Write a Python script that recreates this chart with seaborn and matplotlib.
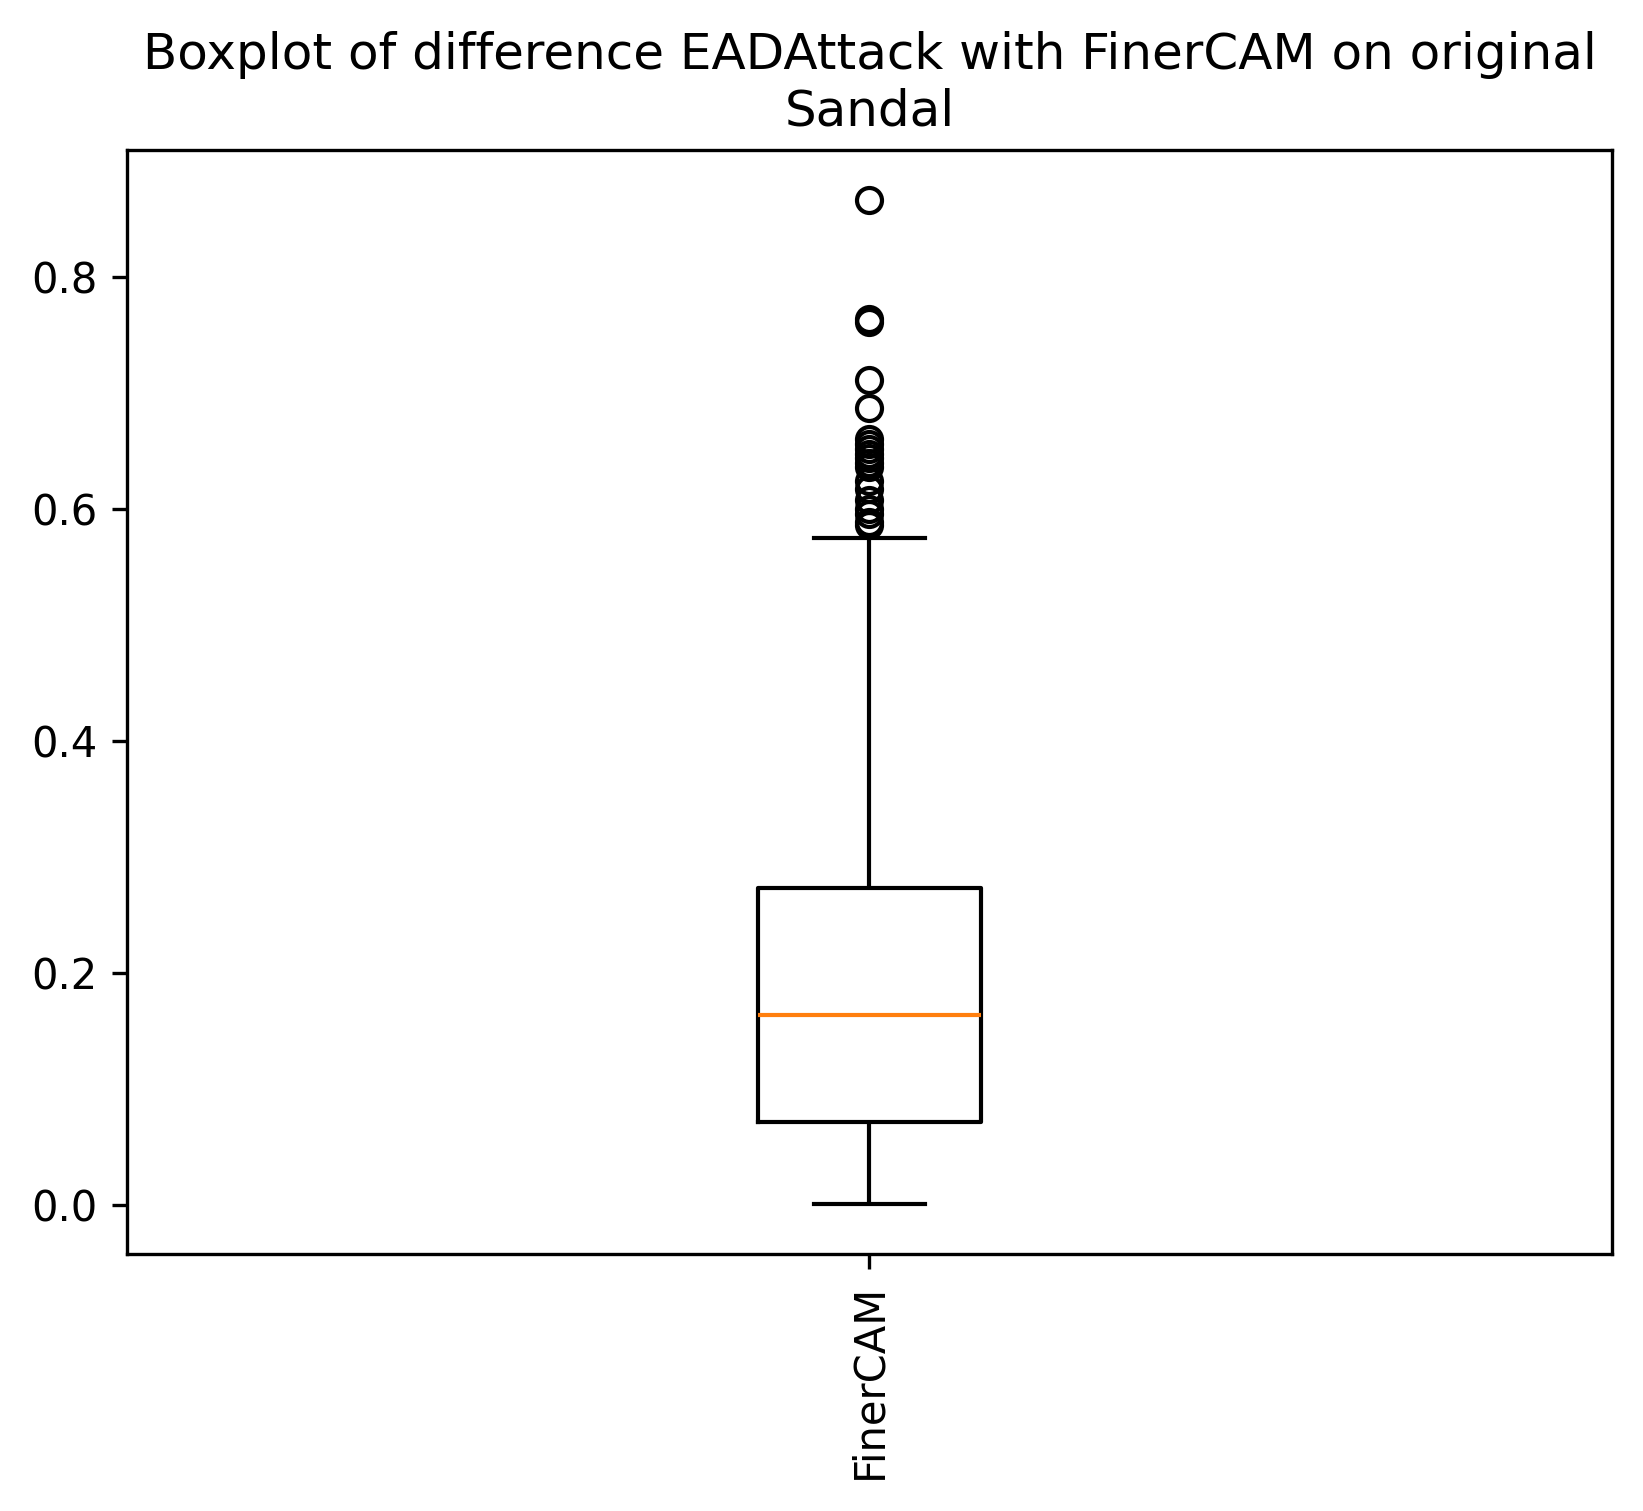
import pandas as pd
import matplotlib
matplotlib.use('Agg')
import matplotlib.pyplot as plt
import seaborn as sns

# === DONNEES ===
method = "FinerCAM"
below_q1 = [0.0013, 0.004, 0.008, 0.011, 0.015, 0.019, 0.022, 0.026, 0.030, 0.034,
            0.037, 0.041, 0.045, 0.049, 0.052, 0.056, 0.059, 0.063, 0.066, 0.069]
q1 = [0.0716]
q1_to_median = [0.076, 0.081, 0.085, 0.090, 0.095, 0.100, 0.104, 0.109, 0.114, 0.118,
                0.123, 0.128, 0.133, 0.138, 0.143, 0.148, 0.152, 0.157, 0.161]
median = [0.1642]
median_to_q3 = [0.169, 0.175, 0.180, 0.186, 0.191, 0.197, 0.203, 0.208, 0.214, 0.219,
                0.225, 0.231, 0.236, 0.242, 0.247, 0.253, 0.259, 0.264, 0.269]
q3 = [0.2738]
upper_whisker = [0.575]
outliers = [0.586, 0.589, 0.596, 0.600, 0.608, 0.617, 0.624, 0.636, 0.640, 0.644,
            0.647, 0.652, 0.656, 0.660, 0.687, 0.711, 0.761, 0.764, 0.866]

values = below_q1 + q1 + q1_to_median + median + median_to_q3 + q3 + upper_whisker + outliers
df = pd.DataFrame({"methode": method, "difference": values})

# === FIGURE ===
fig = plt.figure(figsize=(1643 / 300, 1511 / 300), dpi=300)
ax = fig.add_axes([0.0773, 0.170, 0.9038, 0.7307])

sns.boxplot(
    data=df, x="methode", y="difference", ax=ax,
    width=0.15, fill=False, color="black", linecolor="black", linewidth=1,
    whis=1.5,
    medianprops={"color": "#ff7f0e", "linewidth": 1},
    flierprops={"marker": "o", "markerfacecolor": "none", "markeredgecolor": "black",
                "markersize": 6, "markeredgewidth": 1},
    capwidths=0.075,
)

ax.set_xlabel("")
ax.set_ylabel("")
plt.xticks(rotation=90)
ax.set_title("Boxplot of difference EADAttack with FinerCAM on original\nSandal", fontsize=12)

plt.savefig("out.png", dpi=300)
plt.close()
